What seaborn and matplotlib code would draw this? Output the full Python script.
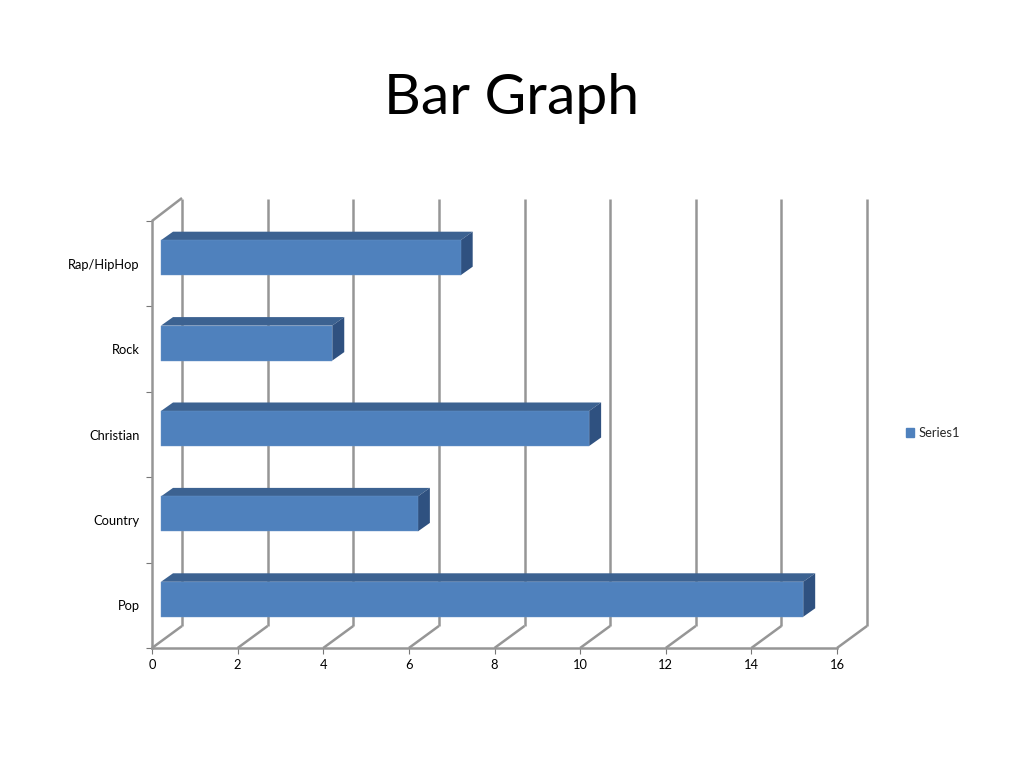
import matplotlib
matplotlib.use("Agg")
import matplotlib.pyplot as plt
import seaborn as sns
from matplotlib.patches import Polygon
from matplotlib.transforms import Affine2D, IdentityTransform

# ---------- Data ----------
genres = ["Rap/HipHop", "Rock", "Christian", "Country", "Pop"]
votes = [7, 4, 10, 6, 15]
x_ticks = [0, 2, 4, 6, 8, 10, 12, 14, 16]
series_name = "Series1"

FRONT = "#4f81bd"
TOP = "#3c6291"
SIDE = "#2f5180"
WALL = "#969696"

sns.set_style("white")
plt.rcParams["font.family"] = ["Lato", "DejaVu Sans"]

W, H = 1024, 768
fig = plt.figure(figsize=(W / 100, H / 100), dpi=100)
ax = fig.add_axes([152 / W, 1 - 648 / H, (837 - 152) / W, (648 - 221) / H])
ax.patch.set_alpha(0)

sns.barplot(x=votes, y=genres, orient="y", color=FRONT, saturation=1, width=0.41,
            label=series_name, legend=False, ax=ax, zorder=4, edgecolor="#6a95c9", linewidth=0.3)
ax.set_xlim(0, 16)
ax.set_ylim(4.5, -0.5)
if ax.get_legend() is not None:
    ax.get_legend().remove()

# ---------- Back wall and floor ----------
back = ax.transData + Affine2D().translate(30, 22)
y_bottom, y_top = 4.5, -0.5
wall_kw = dict(color=WALL, lw=1.8, zorder=1, clip_on=False, solid_capstyle="butt")
for t in x_ticks:
    ax.plot([t, t], [y_bottom, y_top], transform=back, **wall_kw)
    x0, y0 = ax.transData.transform((t, y_bottom))
    ax.plot([x0, x0 + 30], [y0, y0 + 22], transform=IdentityTransform(), **wall_kw)
x0, y0 = ax.transData.transform((0, y_top))
ax.plot([x0, x0 + 30], [y0, y0 + 23], transform=IdentityTransform(), **wall_kw)

# ---------- 3D look on the bars ----------
shift = Affine2D().translate(9, 6)
dx, dy = 12, 8.5
for bar in ax.patches:
    bb = bar.get_bbox().transformed(ax.transData)
    l, r = bb.x0 + 9, bb.x1 + 9
    b, t = min(bb.y0, bb.y1) + 6, max(bb.y0, bb.y1) + 6
    bar.set_transform(ax.transData + shift)
    bar.set_clip_on(False)
    ax.add_patch(Polygon([(l, t), (r, t), (r + dx, t + dy), (l + dx, t + dy)], closed=True, fc=TOP, ec="none",
                         transform=IdentityTransform(), zorder=3, clip_on=False))
    ax.add_patch(Polygon([(r, b), (r, t), (r + dx, t + dy), (r + dx, b + dy)], closed=True, fc=SIDE, ec="none",
                         transform=IdentityTransform(), zorder=3, clip_on=False))

# ---------- Axes ----------
sns.despine(ax=ax, top=True, right=True)
for side in ["left", "bottom"]:
    ax.spines[side].set_color(WALL)
    ax.spines[side].set_linewidth(1.8)
    ax.spines[side].set_zorder(2)

ax.set_xticks(x_ticks)
ax.set_xticklabels([str(t) for t in x_ticks])
ax.set_yticks(range(len(genres)))
ax.set_yticklabels(genres)
ax.set_yticks([i - 0.5 for i in range(len(genres) + 1)], minor=True)
ax.tick_params(axis="x", bottom=True, length=4, width=0.8, color="#777777", labelsize=9.3, pad=4, labelcolor="black")
ax.tick_params(axis="y", which="major", left=False, labelsize=9.3, pad=5.5, labelcolor="black")
ax.tick_params(axis="y", which="minor", left=True, length=4, width=0.8, color="#777777")
ax.set_xlabel("")
ax.set_ylabel("")
ax.grid(False)

handle = plt.Rectangle((0, 0), 1, 1, color=FRONT)
fig.legend([handle], [series_name], loc="center left", bbox_to_anchor=(903 / W, 1 - 433 / H), frameon=False,
           fontsize=9.3, handlelength=0.65, handleheight=0.65, handletextpad=0.35, borderpad=0.2, borderaxespad=0)

fig.text(512 / W, 1 - 99 / H, "Bar Graph", ha="center", va="center", fontsize=41, color="black")

fig.savefig("out.png", dpi=100)
plt.close(fig)
